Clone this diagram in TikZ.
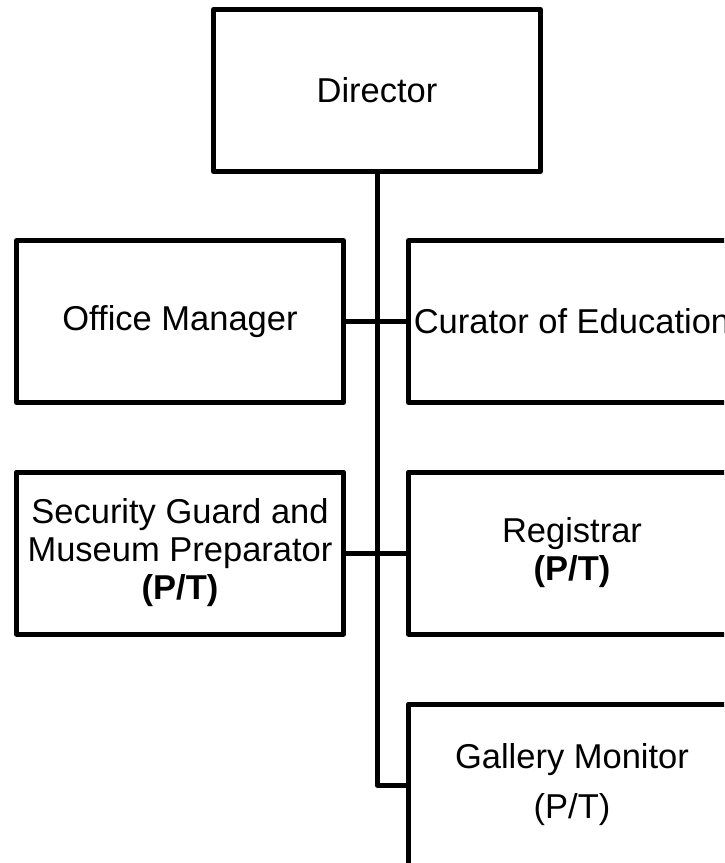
\documentclass[tikz,border=0pt]{standalone}
\usepackage{fontspec}
\setmainfont{Liberation Sans}
\begin{document}
\begin{tikzpicture}[x=1pt,y=-1pt,
  box/.style={draw, line width=5pt, line join=round, minimum width=327pt,
    minimum height=162pt, inner sep=0pt, align=center,
    font=\fontsize{34.5}{38}\selectfont},
  conn/.style={line width=5pt, line join=round}]
\useasboundingbox (0,0) rectangle (724,863);
\clip (0,0) rectangle (724,863);
\node[box] (dir) at (377,90.5) {Director};
\node[box] (om)  at (180,321.5) {Office Manager};
\node[box] (cur) at (572,321.5) {Curator of Education};
\node[box] (sec) at (180,553) {Security Guard and\\Museum Preparator\\\textbf{(P/T)}};
\node[box] (reg) at (572,553) {Registrar\\\textbf{(P/T)}};
\node[box] (gal) at (572,785) {Gallery Monitor\\[12pt](P/T)};
\draw[conn] (dir.south) -- (dir.south |- gal.west) -- (gal.west);
\draw[conn] (om.east) -- (cur.west);
\draw[conn] (sec.east) -- (reg.west);
\end{tikzpicture}
\end{document}
